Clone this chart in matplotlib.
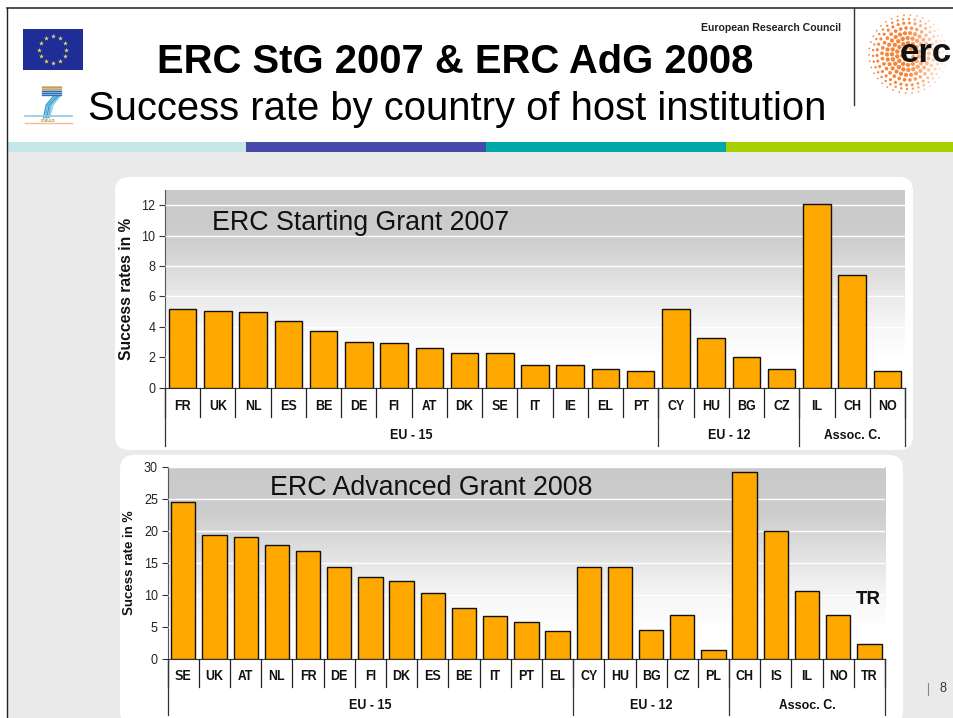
import numpy as np
import matplotlib
matplotlib.use("Agg")
import matplotlib.pyplot as plt
from matplotlib.patches import Rectangle, FancyBboxPatch, Polygon
from matplotlib.colors import LinearSegmentedColormap

plt.rcParams['font.family'] = ['Liberation Sans', 'DejaVu Sans']
plt.rcParams['text.hinting'] = 'no_autohint'

W, H = 954, 718

stg_countries = ["FR","UK","NL","ES","BE","DE","FI","AT","DK","SE","IT","IE","EL","PT","CY","HU","BG","CZ","IL","CH","NO"]
stg_values = [5.2,5.05,5.0,4.4,3.7,3.0,2.95,2.6,2.3,2.3,1.5,1.5,1.2,1.1,5.2,3.25,2.05,1.2,12.05,7.4,1.1]
stg_groups = ["EU - 15","EU - 12","Assoc. C."]
stg_group_sizes = [14,4,3]
stg_yticks = [0,2,4,6,8,10,12]

adg_countries = ["SE","UK","AT","NL","FR","DE","FI","DK","ES","BE","IT","PT","EL","CY","HU","BG","CZ","PL","CH","IS","IL","NO","TR"]
adg_values = [24.6,19.5,19.1,17.8,16.9,14.5,12.9,12.2,10.4,8.0,6.8,5.9,4.4,14.4,14.4,4.6,7.0,1.5,29.2,20.0,10.6,7.0,2.4]
adg_groups = ["EU - 15","EU - 12","Assoc. C."]
adg_group_sizes = [13,5,5]
adg_yticks = [0,5,10,15,20,25,30]

BAR = "#FFA800"
fig = plt.figure(figsize=(W/100, H/100), dpi=100, facecolor="white")

# page layer in pixel coordinates
bg = fig.add_axes([0,0,1,1], zorder=0)
bg.set_xlim(0,W); bg.set_ylim(H,0); bg.axis("off")
bg.add_patch(Rectangle((7,152),W-7,H-152,fc="#EAEAEA",ec="none"))
bg.plot([7.5,W],[8,8],color="#222222",lw=1.1)
bg.plot([7.5,7.5],[8,H],color="#222222",lw=1)
bg.plot([854,854],[8,105],color="#333333",lw=1)
for x0,c in zip([7,246,486,726],["#C4E6E6","#4649A8","#00A8A8","#A8D000"]):
    bg.add_patch(Rectangle((x0,142),240,10,fc=c,ec="none"))
for (x,y,w,h) in [(115,177,798,273),(120,455,783,270)]:
    bg.add_patch(FancyBboxPatch((x+14,y+14),w-28,h-28,boxstyle="round,pad=14,rounding_size=14",fc="white",ec="none"))

# EU flag
bg.add_patch(Rectangle((23,29),60,41,fc="#1F2E96",ec="none"))
t = np.arange(12)*2*np.pi/12
bg.scatter(53+13.5*np.sin(t),49.5+13.5*np.cos(t),marker="*",s=13,c="#E8E060",linewidths=0)
# FP7 logo
bg.add_patch(Polygon([[42,86],[62,86],[61,96],[54,105],[50,118],[43,118],[46,105],[53,96],[42,96]],fc="#9FD8EC",ec="none"))
for dx,c in zip([0,2,4,6],["#2F8FC8","#58B0D8","#2F8FC8","#58B0D8"]):
    bg.plot([53.5+dx,46+dx*0.8,43.5+dx*0.8],[96,105,118],color=c,lw=0.7)
for yy,c in zip([87,89,91,93,95],["#E8942A","#E8A050","#3A6AB0","#3A6AB0","#3A6AB0"]):
    bg.plot([42,61],[yy,yy],color=c,lw=1)
bg.plot([25,72],[116,116],color="#8CCBE0",lw=1.2)
bg.text(48,120,"IDEAS",fontsize=3.5,ha="center",va="center",color="#B08030")
bg.plot([25,72],[123,123],color="#F0C090",lw=1)
# ERC logo
for r,n,s in [(6,8,9),(11,14,10),(16,20,10),(21,26,9),(26,30,7),(31,34,5),(35,38,3),(39,38,1.5)]:
    a = np.arange(n)*2*np.pi/n + r
    px = 908+r*np.cos(a); py = 54+r*np.sin(a)
    alpha = np.clip(1.0-(px-905)/45,0.2,1.0)
    cols = np.zeros((n,4)); cols[:,:3] = (0.96,0.52,0.22); cols[:,3] = alpha
    bg.scatter(px,py,s=s,c=cols,linewidths=0)
bg.text(926,53,"erc",fontsize=25,fontweight="bold",ha="center",va="center",color="#111111")

# header text
bg.text(841,28,"European Research Council",fontsize=7.6,fontweight="bold",ha="right",va="center",color="#222222")
bg.text(455.5,62.5,"ERC StG 2007 & ERC AdG 2008",fontsize=28.8,fontweight="bold",ha="center",va="center",color="black")
bg.text(457,110,"Success rate by country of host institution",fontsize=28.8,ha="center",va="center",color="black")
bg.plot([928.5,928.5],[683,695],color="#888888",lw=0.8)
bg.text(942.5,689,"8",fontsize=9,ha="center",va="center",color="#333333")

grad = LinearSegmentedColormap.from_list("g",[(0,"#C9C9C9"),(0.23,"#CDCDCD"),(0.38,"#DADADA"),(0.54,"#EAEAEA"),(0.69,"#F7F7F7"),(0.85,"#FFFFFF"),(1,"#FFFFFF")])

def panel(left,right,top,bottom,ymax,countries,values,yticks,groups,sizes,ylabel,ylabel_x,ylabel_y,ylabel_fs,
          title,title_x,title_y,ticky,groupy,width,tickfs,labfs):
    ax = fig.add_axes([left/W,1-bottom/H,(right-left)/W,(bottom-top)/H],zorder=2)
    ax.patch.set_alpha(0)
    n = len(countries)
    ax.imshow(np.linspace(0,1,256)[:,None],cmap=grad,aspect="auto",extent=[-0.5,n-0.5,0,ymax],origin="upper",zorder=0,vmin=0,vmax=1)
    ax.set_xlim(-0.5,n-0.5); ax.set_ylim(0,ymax)
    ax.yaxis.grid(True,color="white",lw=1,zorder=1); ax.set_axisbelow(False)
    ax.bar(np.arange(n),values,width=width,color=BAR,edgecolor="#111111",lw=1,zorder=3)
    for s in ["top","right"]:
        ax.spines[s].set_visible(False)
    ax.spines["left"].set_color("#555555"); ax.spines["bottom"].set_color("#333333")
    ax.set_yticks(yticks)
    ax.tick_params(axis="y",labelsize=tickfs,length=4,width=0.8,color="#333333",pad=3,labelcolor="#222222")
    ax.set_xticks([])
    hpx = bottom-top
    tr = ax.get_xaxis_transform()
    for i in range(n+1):
        ax.plot([i-0.5,i-0.5],[0,-(ticky-bottom)/hpx],transform=tr,color="#222222",lw=0.9,clip_on=False,zorder=4)
    for i,c in enumerate(countries):
        ax.text(i,-((ticky-bottom)/2+7.3)/hpx,c,transform=tr,ha="center",va="baseline",fontsize=labfs,fontweight="bold",color="#111111")
    edges = np.concatenate([[0],np.cumsum(sizes)])-0.5
    for e in edges:
        ax.plot([e,e],[0,-(groupy-bottom)/hpx],transform=tr,color="#333333",lw=0.9,clip_on=False,zorder=4)
    for g,a,b in zip(groups,edges[:-1],edges[1:]):
        ax.text((a+b)/2,-((ticky+groupy)/2-bottom+7.8)/hpx,g,transform=tr,ha="center",va="baseline",fontsize=labfs,fontweight="bold",color="#111111")
    bg.text(ylabel_x,ylabel_y,ylabel,rotation=90,ha="center",va="center",fontsize=ylabel_fs,fontweight="bold",color="#111111")
    ax.text((title_x-left)/(right-left),(bottom-title_y)/hpx,title,transform=ax.transAxes,ha="center",va="center",fontsize=19.3,color="#111111",zorder=5)
    return ax

panel(165,905,190,387.7,13,stg_countries,stg_values,stg_yticks,stg_groups,stg_group_sizes,
      "Success rates in %",127,289,11.3,"ERC Starting Grant 2007",361,223,416.7,445.7,0.78,9,9)
ax2 = panel(167.7,885,467.3,659.3,30,adg_countries,adg_values,adg_yticks,adg_groups,adg_group_sizes,
      "Sucess rate in %",130,562.5,9.5,"ERC Advanced Grant 2008",431,488,687,715,0.78,9,9)
ax2.text((868.5-167.7)/(885-167.7),(659.3-598.5)/192,"TR",transform=ax2.transAxes,fontsize=13.5,fontweight="bold",ha="center",va="center",color="#111111",zorder=6)

fig.savefig("out.png",dpi=100,facecolor="white")
